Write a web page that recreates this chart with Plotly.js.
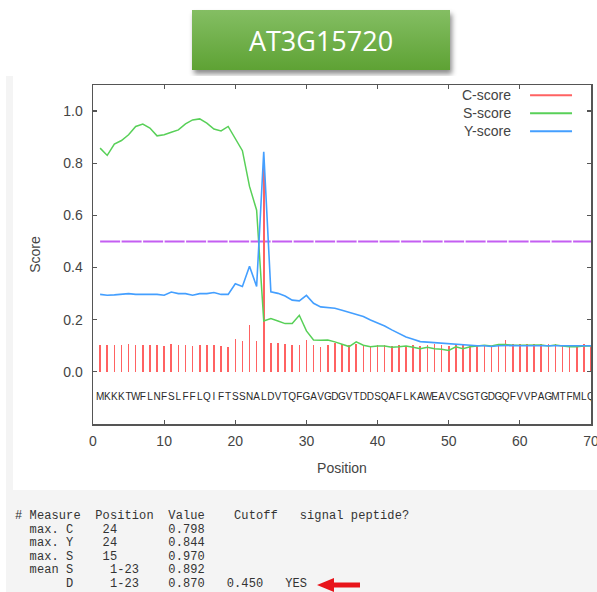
<!DOCTYPE html>
<html>
<head>
<meta charset="utf-8">
<script src="https://cdn.plot.ly/plotly-3.0.1.min.js"></script>
<style>
  html, body { margin:0; padding:0; background:#fff; width:597px; height:592px; overflow:hidden; }
  #btn { position:absolute; left:192px; top:10px; width:258px; height:60px;
         background:linear-gradient(#84be63, #5ea234); box-shadow:2px 4px 5px rgba(0,0,0,0.45);
         color:#fff; font-family:"Open Sans","Noto Sans",sans-serif; font-size:27px;
         display:flex; align-items:center; justify-content:center; }
  #panel { position:absolute; left:6px; top:76px; width:591px; height:516px; background:#f4f4f4; }
  #chart { position:absolute; left:13px; top:76px; width:584px; height:414px; background:#fff; }
  #out { position:absolute; left:15px; top:510px; margin:0; font-family:"Liberation Mono","DejaVu Sans Mono",monospace;
         font-size:12px; letter-spacing:0.1px; line-height:13.5px; color:#333; }
  #arrow { position:absolute; left:310px; top:575px; }
</style>
</head>
<body>
<div id="btn">AT3G15720</div>
<div id="panel"></div>
<div id="chart"></div>
<pre id="out"># Measure  Position  Value    Cutoff   signal peptide?
  max. C    24       0.798
  max. Y    24       0.844
  max. S    15       0.970
  mean S     1-23    0.892
       D     1-23    0.870   0.450   YES</pre>
<svg id="arrow" width="60" height="20"><polygon points="7,10 24,3 24,7.5 50,7.5 50,12.5 24,12.5 24,17" fill="#e8141a"/></svg>
<script>
const positions = [1,2,3,4,5,6,7,8,9,10,11,12,13,14,15,16,17,18,19,20,21,22,23,24,25,26,27,28,29,30,31,32,33,34,35,36,37,38,39,40,41,42,43,44,45,46,47,48,49,50,51,52,53,54,55,56,57,58,59,60,61,62,63,64,65,66,67,68,69,70];
const residues = ["M","K","K","K","T","W","F","L","N","F","S","L","F","F","L","Q","I","F","T","S","S","N","A","L","D","V","T","Q","F","G","A","V","G","D","G","V","T","D","D","S","Q","A","F","L","K","A","W","E","A","V","C","S","G","T","G","D","G","Q","F","V","V","P","A","G","M","T","F","M","L","Q"];
const cScore = [0.103,0.103,0.103,0.103,0.107,0.103,0.103,0.103,0.103,0.099,0.107,0.103,0.103,0.099,0.103,0.103,0.103,0.099,0.096,0.126,0.118,0.180,0.117,0.798,0.111,0.111,0.106,0.104,0.104,0.121,0.103,0.097,0.104,0.109,0.106,0.104,0.108,0.102,0.099,0.102,0.102,0.099,0.102,0.099,0.102,0.099,0.102,0.106,0.102,0.099,0.102,0.102,0.102,0.102,0.102,0.099,0.102,0.121,0.106,0.106,0.108,0.106,0.106,0.106,0.106,0.099,0.102,0.099,0.106,0.102];
const sScore = [0.858,0.830,0.873,0.887,0.909,0.941,0.950,0.935,0.905,0.909,0.919,0.928,0.951,0.966,0.970,0.954,0.931,0.924,0.941,0.897,0.848,0.711,0.620,0.195,0.204,0.195,0.185,0.185,0.217,0.157,0.122,0.121,0.122,0.115,0.106,0.097,0.115,0.102,0.096,0.099,0.099,0.094,0.096,0.099,0.094,0.089,0.094,0.089,0.087,0.082,0.096,0.089,0.096,0.099,0.102,0.099,0.105,0.105,0.102,0.102,0.102,0.103,0.103,0.099,0.103,0.099,0.096,0.096,0.099,0.099];
const yScore = [0.297,0.294,0.295,0.297,0.300,0.297,0.297,0.297,0.297,0.294,0.306,0.300,0.300,0.294,0.300,0.300,0.304,0.297,0.297,0.338,0.327,0.405,0.327,0.844,0.307,0.301,0.291,0.275,0.272,0.293,0.263,0.249,0.246,0.244,0.236,0.228,0.222,0.212,0.199,0.189,0.176,0.161,0.147,0.134,0.125,0.116,0.114,0.112,0.108,0.106,0.104,0.102,0.101,0.100,0.100,0.097,0.100,0.101,0.101,0.100,0.100,0.100,0.100,0.098,0.100,0.100,0.099,0.099,0.100,0.100];
const cutoff = 0.5;
const seriesNames = ["C-score","S-score","Y-score"];
const seriesColors = ["#ff6262","#58d058","#449fff"];
const xTicks = [0,10,20,30,40,50,60,70];
const yTicks = [0.0,0.2,0.4,0.6,0.8,1.0];

const seqLevel = -0.097;
const font = "Liberation Sans, Arial, sans-serif";

const traces = [
  {type:"bar", x:positions, y:cScore, width:0.22, name:seriesNames[0],
   marker:{color:seriesColors[0], line:{width:0}}, hoverinfo:"skip"},
  {type:"scatter", mode:"lines", x:positions, y:sScore, name:seriesNames[1],
   line:{color:seriesColors[1], width:1.5}, hoverinfo:"skip"},
  {type:"scatter", mode:"lines", x:positions, y:yScore, name:seriesNames[2],
   line:{color:seriesColors[2], width:1.6}, hoverinfo:"skip"},
  {type:"scatter", mode:"text", x:positions, y:positions.map(()=>seqLevel), text:residues,
   textfont:{family:font, size:10, color:"#2a2a2a"}, textposition:"middle center", hoverinfo:"skip", showlegend:false}
];

const axisCommon = {showline:true, linecolor:"#555", linewidth:1.5, mirror:"ticks", ticks:"inside",
  ticklen:4, tickcolor:"#555", tickwidth:1.2, showgrid:false, zeroline:false,
  tickfont:{family:font, size:14, color:"#444"}};

const legX0 = 0.8435, legL0 = 0.8776, legL1 = 0.9619;
const legY = [0.9696, 0.9166, 0.8635];
const annotations = seriesNames.map((n,i)=>({xref:"paper", yref:"paper", x:legX0, y:legY[i],
  xanchor:"right", yanchor:"middle", text:n, showarrow:false, font:{family:font, size:14, color:"#444"}}));
const shapes = seriesNames.map((n,i)=>({type:"line", xref:"paper", yref:"paper", x0:legL0, x1:legL1,
  y0:legY[i], y1:legY[i], line:{color:seriesColors[i], width:2}}));
shapes.push({type:"line", xref:"x", yref:"y", x0:positions[0], x1:positions[positions.length-1],
  y0:cutoff, y1:cutoff, line:{color:"#c45ef2", width:2, dash:"20px,1.5px"}, layer:"below"});

const layout = {
  width:584, height:414,
  margin:{l:80, r:6, t:9, b:66},
  paper_bgcolor:"#fff", plot_bgcolor:"#fff",
  showlegend:false,
  bargap:0,
  xaxis:Object.assign({}, axisCommon, {range:[0,70], tickvals:xTicks, ticklabelstandoff:4, ticklabeloverflow:"allow",
     title:{text:"Position", font:{family:font, size:14, color:"#444"}, standoff:15}}),
  yaxis:Object.assign({}, axisCommon, {range:[-0.2,1.1], tickvals:yTicks, tickformat:".1f", ticklabelstandoff:6,
     title:{text:"Score", font:{family:font, size:14, color:"#444"}, standoff:19}}),
  annotations:annotations,
  shapes:shapes
};
Plotly.newPlot("chart", traces, layout, {displayModeBar:false, staticPlot:true});
</script>
</body>
</html>
